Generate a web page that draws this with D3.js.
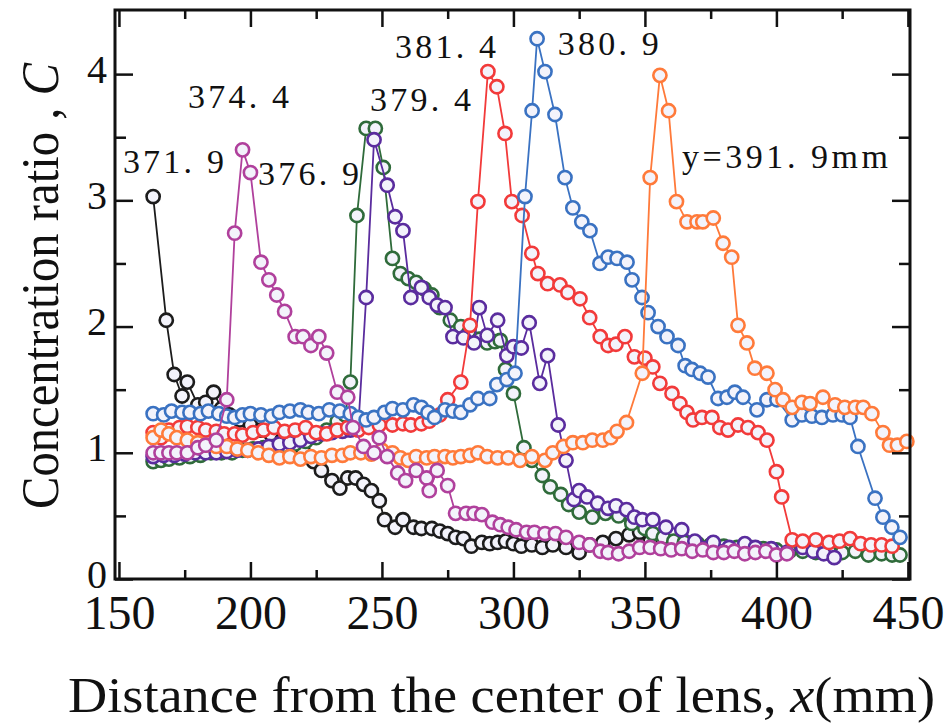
<!DOCTYPE html>
<html><head><meta charset="utf-8">
<script src="https://cdn.jsdelivr.net/npm/d3@7/dist/d3.min.js"></script>
<style>
html,body{margin:0;padding:0;background:#fff;}
svg{display:block;}
text{font-family:"Liberation Serif","DejaVu Serif",serif;fill:#111;}
</style></head>
<body><svg id="c" width="949" height="725"></svg>
<script>
// ---- data (x in mm, C) ----
const s371_9 = [[163,3.03],[168,2.05],[171,1.62],[174,1.45],[176,1.56],[180,1.38],[183,1.40],[186,1.48],[189,1.35],[192,1.30],[196,1.26],[200,1.22],[204,1.18],[208,1.14],[212,1.10],[216,1.06],[220,1.02],[224,0.93],[227,0.86],[231,0.78],[234,0.72],[237,0.80],[240,0.80],[243,0.75],[246,0.70],[249,0.62],[251,0.47],[255,0.41],[258,0.47],[262,0.41],[265,0.40],[269,0.40],[272,0.38],[275,0.36],[278,0.33],[281,0.32],[284,0.26],[288,0.29],[291,0.28],[294,0.29],[297,0.30],[300,0.28],[303,0.26],[307,0.27],[311,0.25],[315,0.27],[320,0.25],[325,0.21],[329,0.27],[334,0.29],[339,0.32],[344,0.35],[348,0.37],[352,0.30]];
const s374_4 = [[163,1.0],[166,1.0],[169,1.0],[172,1.0],[176,1.0],[180,1.04],[183,1.06],[187,1.1],[191,1.42],[194,2.74],[197,3.40],[200,3.22],[204,2.51],[207,2.37],[210,2.25],[213,2.12],[217,1.92],[220,1.92],[223,1.85],[226,1.92],[229,1.79],[233,1.48],[237,1.44],[239,1.20],[243,1.05],[247,1.0],[249,1.12],[252,0.97],[256,0.84],[259,0.78],[263,0.86],[267,0.80],[268,0.70],[271,0.86],[275,0.74],[278,0.52],[282,0.52],[285,0.52],[288,0.51],[292,0.45],[295,0.43],[298,0.41],[301,0.39],[305,0.37],[308,0.37],[312,0.36],[316,0.36],[320,0.33],[325,0.29],[329,0.27],[333,0.22],[336,0.21],[340,0.20],[344,0.22],[348,0.25],[352,0.25],[356,0.24],[360,0.23],[364,0.24],[368,0.22],[372,0.23],[376,0.21],[380,0.21],[384,0.22],[388,0.20],[392,0.21],[396,0.22],[400,0.19],[404,0.20]];
const s376_9 = [[163,0.93],[166,0.94],[169,0.95],[173,0.96],[177,0.97],[181,0.98],[185,1.0],[189,1.0],[193,1.0],[197,1.02],[201,1.03],[205,1.04],[209,1.05],[213,1.06],[217,1.07],[221,1.09],[225,1.12],[229,1.18],[233,1.25],[236,1.30],[238,1.56],[240.5,2.88],[244,3.57],[247.5,3.57],[250.5,3.26],[254,2.54],[257,2.42],[260,2.38],[263,2.35],[266,2.30],[269,2.25],[272,2.15],[276,2.05],[280,2.0],[283,1.95],[287,1.90],[290,1.87],[293,1.88],[295,1.89],[297,1.66],[300,1.47],[304,1.04],[307,0.94],[311,0.82],[314,0.73],[318,0.67],[321,0.59],[325,0.53],[330,0.49],[335,0.52],[340,0.50],[345,0.44],[350,0.40],[353,0.36],[357,0.33],[361,0.30],[365,0.29],[370,0.28],[375,0.27],[380,0.26],[385,0.25],[390,0.25],[395,0.24],[400,0.23],[405,0.22],[410,0.22],[415,0.21],[420,0.22],[425,0.21],[430,0.22],[435,0.19],[440,0.20],[444,0.19],[447,0.19]];
const s379_4 = [[163,0.97],[167,0.98],[171,0.98],[175,0.99],[179,1.0],[183,1.0],[187,1.0],[191,1.01],[195,1.02],[199,1.02],[203,1.03],[207,1.05],[211,1.07],[215,1.08],[219,1.10],[223,1.13],[227,1.15],[231,1.16],[235,1.17],[238,1.18],[241,1.20],[244,2.23],[247,3.48],[252,3.12],[255,2.87],[258,2.76],[261,2.23],[265,2.31],[268,2.23],[271,2.17],[274,2.15],[277,1.92],[281,1.91],[285,1.87],[287,2.15],[290,1.93],[294,2.05],[297.5,1.77],[300,1.84],[303,1.83],[306,2.03],[310,1.55],[313,1.77],[317,1.22],[320,0.94],[323,0.63],[325,0.70],[328,0.65],[332,0.60],[336,0.56],[339,0.58],[343,0.55],[346,0.49],[349,0.47],[353,0.47],[358,0.41],[364,0.39],[369,0.30],[376,0.29],[382,0.25],[388,0.28],[392,0.25],[398,0.24],[404,0.21],[410,0.25],[414,0.22],[418,0.20],[422,0.17]];
const s381_4 = [[163,1.16],[166,1.12],[169,1.18],[173,1.20],[176,1.21],[180,1.20],[183,1.18],[187,1.17],[190,1.15],[194,1.15],[197,1.14],[201,1.16],[205,1.18],[209,1.20],[213,1.17],[217,1.18],[221,1.20],[225,1.16],[229,1.15],[233,1.18],[237,1.20],[241,1.18],[245,1.20],[249,1.22],[254,1.22],[258,1.23],[261,1.22],[265,1.23],[268,1.25],[272,1.30],[275,1.42],[280,1.56],[283.5,2.01],[286.5,2.99],[290.3,4.02],[293.7,3.90],[296.8,3.53],[299.4,2.99],[303.3,2.88],[307,2.58],[309.3,2.42],[313,2.34],[317.7,2.33],[320.7,2.27],[325.3,2.22],[329,2.07],[333,1.92],[336,1.85],[339,1.86],[342.4,1.92],[346,1.76],[350,1.75],[353,1.68],[355.7,1.55],[360.3,1.47],[363.3,1.39],[366,1.32],[368.3,1.26],[371.7,1.28],[375.5,1.28],[378.5,1.20],[381.6,1.18],[385.4,1.22],[389.2,1.20],[393,1.16],[396.4,1.10],[400,0.85],[402,0.65],[406,0.31],[410,0.30],[415,0.31],[420,0.29],[424,0.30],[428,0.32],[432,0.28],[436,0.27],[440,0.27],[444,0.26]];
const s380_9 = [[163,1.31],[167,1.30],[170,1.33],[174,1.32],[177,1.32],[181,1.31],[184,1.33],[188,1.31],[191,1.29],[194,1.28],[197,1.30],[200,1.31],[204,1.30],[208,1.29],[211,1.32],[215,1.33],[219,1.34],[222,1.32],[226,1.31],[230,1.34],[234,1.33],[238,1.31],[241,1.28],[244,1.26],[247,1.28],[251,1.32],[254,1.35],[258,1.34],[262,1.38],[265,1.36],[267.5,1.32],[270,1.28],[274,1.34],[277,1.33],[280,1.32],[283.5,1.38],[286.5,1.43],[291,1.43],[293.7,1.54],[297.5,1.58],[300.6,1.63],[304.4,3.03],[307.1,3.71],[309,4.28],[312,4.02],[315.8,3.68],[319.6,3.18],[322.6,2.94],[326,2.83],[329.1,2.76],[332.9,2.50],[336,2.55],[339.4,2.54],[343.2,2.51],[345.1,2.37],[348.9,2.23],[351.2,2.11],[355,2.0],[358.4,1.92],[362.6,1.85],[365.3,1.69],[367.9,1.66],[371,1.63],[374,1.60],[377.8,1.43],[381.2,1.44],[384.2,1.48],[387.3,1.44],[392.6,1.34],[396.4,1.42],[400.2,1.42],[406,1.26],[409.7,1.30],[413.5,1.29],[417.3,1.28],[421.5,1.30],[425,1.30],[428,1.28],[431,1.05],[437.5,0.64],[440.5,0.49],[443.9,0.41],[447,0.33]];
const s391_9 = [[163,1.12],[166,1.18],[169,1.15],[172,1.12],[176,1.10],[180,1.08],[183,1.06],[187,1.05],[191,1.05],[195,1.03],[199,1.02],[203,1.0],[207,0.98],[211,0.96],[215,0.97],[219,0.95],[223,0.97],[227,0.96],[231,0.98],[235,0.98],[238,1.0],[242,1.0],[246,0.99],[250,1.02],[254,1.0],[257,0.96],[260,0.94],[263,0.97],[267,0.96],[270,0.97],[274,0.97],[277,0.96],[280,0.97],[283.5,0.98],[286.5,1.0],[290,0.97],[294,0.96],[298,0.96],[302.5,0.94],[307,0.97],[312,0.94],[315,1.0],[319,1.05],[322.6,1.08],[326.4,1.08],[330,1.10],[334,1.10],[337,1.12],[339.4,1.17],[343,1.24],[349,1.63],[352,3.18],[355.7,3.99],[359,3.71],[362,2.99],[366,2.83],[369.8,2.83],[372,2.83],[376,2.86],[379.7,2.66],[383,2.55],[385.4,2.01],[388.8,1.87],[391.8,1.67],[396.4,1.63],[399.5,1.50],[402.5,1.42],[406,1.36],[409.7,1.40],[412.8,1.39],[417.7,1.44],[422.3,1.38],[426,1.36],[430,1.36],[433,1.36],[436.3,1.31],[440.5,1.16],[443,1.06],[446,1.06],[449.6,1.09]];

const seriesNames = ["371.9","374.4","376.9","379.4","381.4","380.9","391.9"];
const seriesColors = ["#1c1c1c","#b0409c","#2f6b3a","#5a2c9e","#f23a3a","#3a72c2","#ff7a3a"];
const seriesData = [s371_9, s374_4, s376_9, s379_4, s381_4, s380_9, s391_9];
const drawOrder = [0, 2, 3, 4, 5, 6, 1];

const xMajor = [150,200,250,300,350,400,450];
const xMinor = [175,225,275,325,375,425];
const yMajor = [0,1,2,3,4];
const yMinor = [0.5,1.5,2.5,3.5];

const annTexts = ["371. 9","374. 4","376. 9","379. 4","381. 4","380. 9","y=391. 9mm"];
const annX = [151.5, 176.3, 202.9, 245.5, 255, 316.9, 364.1];
const annY = [3.22, 3.73, 3.12, 3.71, 4.13, 4.15, 3.26];

// ---- layout ----
const svg = d3.select("#c");
const L=115, R=910, T=10, B=579;
const x = d3.scaleLinear().domain([148.5,450.8]).range([L,R]);
const y = d3.scaleLinear().domain([0,4.5]).range([B,T+1]);

// series
const line = d3.line().x(d=>x(d[0])).y(d=>y(d[1]));
const gData = svg.append("g");
drawOrder.forEach(i=>{
  const g = gData.append("g");
  g.append("path").datum(seriesData[i]).attr("d",line)
    .attr("fill","none").attr("stroke",seriesColors[i]).attr("stroke-width",1.8);
  g.selectAll("circle").data(seriesData[i]).join("circle")
    .attr("cx",d=>x(d[0])).attr("cy",d=>y(d[1])).attr("r",6.6)
    .attr("fill","#f3f3fb").attr("stroke",seriesColors[i]).attr("stroke-width",2.6);
});

// frame
svg.append("rect").attr("x",L).attr("y",T).attr("width",R-L).attr("height",B-T)
  .attr("fill","none").attr("stroke","#111").attr("stroke-width",3);

function styleAxis(g){
  g.select(".domain").remove();
  g.selectAll(".tick line").attr("stroke","#111").attr("stroke-width",2.5);
}
// bottom
svg.append("g").attr("transform",`translate(0,${B})`)
  .call(d3.axisBottom(x).tickValues(xMajor).tickSize(-17).tickPadding(16).tickFormat(d3.format("d")))
  .call(styleAxis)
  .call(g=>g.selectAll("text").attr("font-size",48).attr("font-family","Liberation Serif").attr("fill","#111"));
svg.append("g").attr("transform",`translate(0,${B})`)
  .call(d3.axisBottom(x).tickValues(xMinor).tickSize(-9).tickFormat(""))
  .call(styleAxis);
// top
svg.append("g").attr("transform",`translate(0,${T})`)
  .call(d3.axisTop(x).tickValues(xMajor).tickSize(-17).tickFormat(""))
  .call(styleAxis);
svg.append("g").attr("transform",`translate(0,${T})`)
  .call(d3.axisTop(x).tickValues(xMinor).tickSize(-9).tickFormat(""))
  .call(styleAxis);
// left
svg.append("g").attr("transform",`translate(${L},0)`)
  .call(d3.axisLeft(y).tickValues(yMajor).tickSize(-18).tickPadding(8).tickFormat(d3.format("d")))
  .call(styleAxis)
  .call(g=>g.selectAll("text").attr("font-size",40).attr("dy","0.2em").attr("font-family","Liberation Serif").attr("fill","#111"));
svg.append("g").attr("transform",`translate(${L},0)`)
  .call(d3.axisLeft(y).tickValues(yMinor).tickSize(-11).tickFormat(""))
  .call(styleAxis);
// right
svg.append("g").attr("transform",`translate(${R},0)`)
  .call(d3.axisRight(y).tickValues(yMajor).tickSize(-18).tickFormat(""))
  .call(styleAxis);
svg.append("g").attr("transform",`translate(${R},0)`)
  .call(d3.axisRight(y).tickValues(yMinor).tickSize(-11).tickFormat(""))
  .call(styleAxis);

// annotations
svg.append("g").selectAll("text").data(annTexts).join("text")
  .attr("x",(d,i)=>x(annX[i])).attr("y",(d,i)=>y(annY[i]))
  .attr("font-size",34)
  .attr("textLength",d=>d.length>6 ? 206 : 101).attr("lengthAdjust","spacing")
  .text(d=>d);

// axis titles
const xt = svg.append("text").attr("x",68).attr("y",712).attr("font-size",50)
  .attr("textLength",867).attr("lengthAdjust","spacingAndGlyphs");
xt.append("tspan").text("Distance from the center of lens, ");
xt.append("tspan").attr("font-style","italic").text("x");
xt.append("tspan").text("(mm)");

const yt = svg.append("text").attr("transform","translate(58,509) rotate(-90)")
  .attr("font-size",52).attr("textLength",446).attr("lengthAdjust","spacingAndGlyphs");
yt.append("tspan").text("Concentration ratio , ");
yt.append("tspan").attr("font-style","italic").text("C");
</script></body></html>
